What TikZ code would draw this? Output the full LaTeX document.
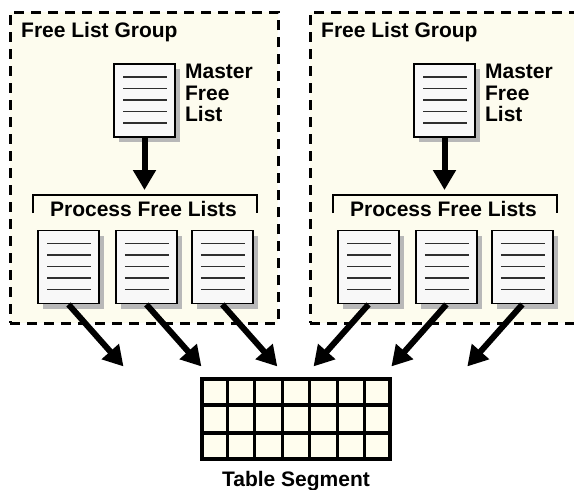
\documentclass[tikz,border=0pt]{standalone}
\usepackage{fontspec}
\setmainfont{Liberation Sans}
\usetikzlibrary{arrows.meta,positioning,calc,shadows}
\definecolor{grpfill}{HTML}{FDFCEE}
\definecolor{cellfill}{HTML}{FFFDEE}
\definecolor{docfill}{HTML}{F8F8F8}
\definecolor{docline}{gray}{0.18}
\definecolor{shadowg}{gray}{0.72}
\tikzset{
  grp/.style      = {draw=black, fill=grpfill, line width=3pt,
                     dash pattern=on 10pt off 7pt, minimum width=268pt,
                     minimum height=311pt, inner sep=0pt},
  doc/.style      = {draw=black, fill=docfill, line width=1.9pt,
                     minimum width=61pt, minimum height=73pt, inner sep=0pt,
                     drop shadow={shadow xshift=5pt, shadow yshift=-5pt,
                                  fill=shadowg, opacity=1},
                     path picture={%
                       \foreach \k in {13,24.5,36,47.5,59}{%
                         \draw[docline, line width=1.3pt]
                           ([xshift=9pt,yshift=-\k pt]path picture bounding box.north west) --
                           ([xshift=-8pt,yshift=-\k pt]path picture bounding box.north east);}}},
  lbl/.style      = {font=\fontsize{21}{21.5}\selectfont\bfseries,
                     inner sep=0pt, align=left},
  fat/.style      = {-{Triangle[length=20pt,width=22pt]}, line width=6pt},
  brk/.style      = {line width=1.4pt},
  segtab/.style   = {draw=black, line width=3.8pt, fill=cellfill,
                     minimum width=188pt, minimum height=80pt, inner sep=0pt},
  cellrule/.style = {line width=3.2pt},
}

\begin{document}
\begin{tikzpicture}[x=1pt,y=-1pt]
  \useasboundingbox (0,0) rectangle (574,490);
  % the two groups
  \foreach \g/\dx in {L/0, R/300}{
    \begin{scope}[xshift=\dx pt]
      \node[grp] (grp\g) at (144,167.5) {};
      \node[lbl, anchor=base west] (grpname\g) at (21,37) {Free List Group};
      \node[doc] (m\g) at (144.5,100.5) {};
      \node[lbl, anchor=north west] (mname\g)
        at ([xshift=9pt,yshift=-1pt]m\g.north east) {Master\\Free\\List};
      \node[lbl, anchor=base] (pname\g) at (143.5,216) {Process Free Lists};
      \coordinate (brkL\g) at (33,213);
      \coordinate (brkR\g) at (257,213);
      \draw[brk] (brkL\g) -- ++(0,-18) -| (brkR\g);
      \coordinate (mtip\g) at (144.5,190);
      \draw[fat] (m\g.south) -- (mtip\g);
      \node[doc] (p\g1) at (68.5,267) {};
      \node[doc, right=15pt of p\g1] (p\g2) {};
      \node[doc, right=13pt of p\g2] (p\g3) {};
    \end{scope}
  }
  % table segment
  \node[segtab] (seg) at (296,419) {};
  \foreach \i in {1,...,6}
    \draw[cellrule] ($(seg.north west)!\i/7!(seg.north east)$) --
                    ($(seg.south west)!\i/7!(seg.south east)$);
  \foreach \j in {1,2}
    \draw[cellrule] ($(seg.north west)!\j/3!(seg.south west)$) --
                    ($(seg.north east)!\j/3!(seg.south east)$);
  \node[lbl, below=10pt of seg] (segname) {Table Segment};
  % process lists into the segment
  \foreach \g/\dir in {L/1, R/-1}{
    \foreach \k in {1,2,3}{
      \coordinate (tip\g\k) at ($(p\g\k.south)+(\dir*55,62)$);
      \draw[fat] (p\g\k.south) -- (tip\g\k);
    }
  }
\end{tikzpicture}
\end{document}
